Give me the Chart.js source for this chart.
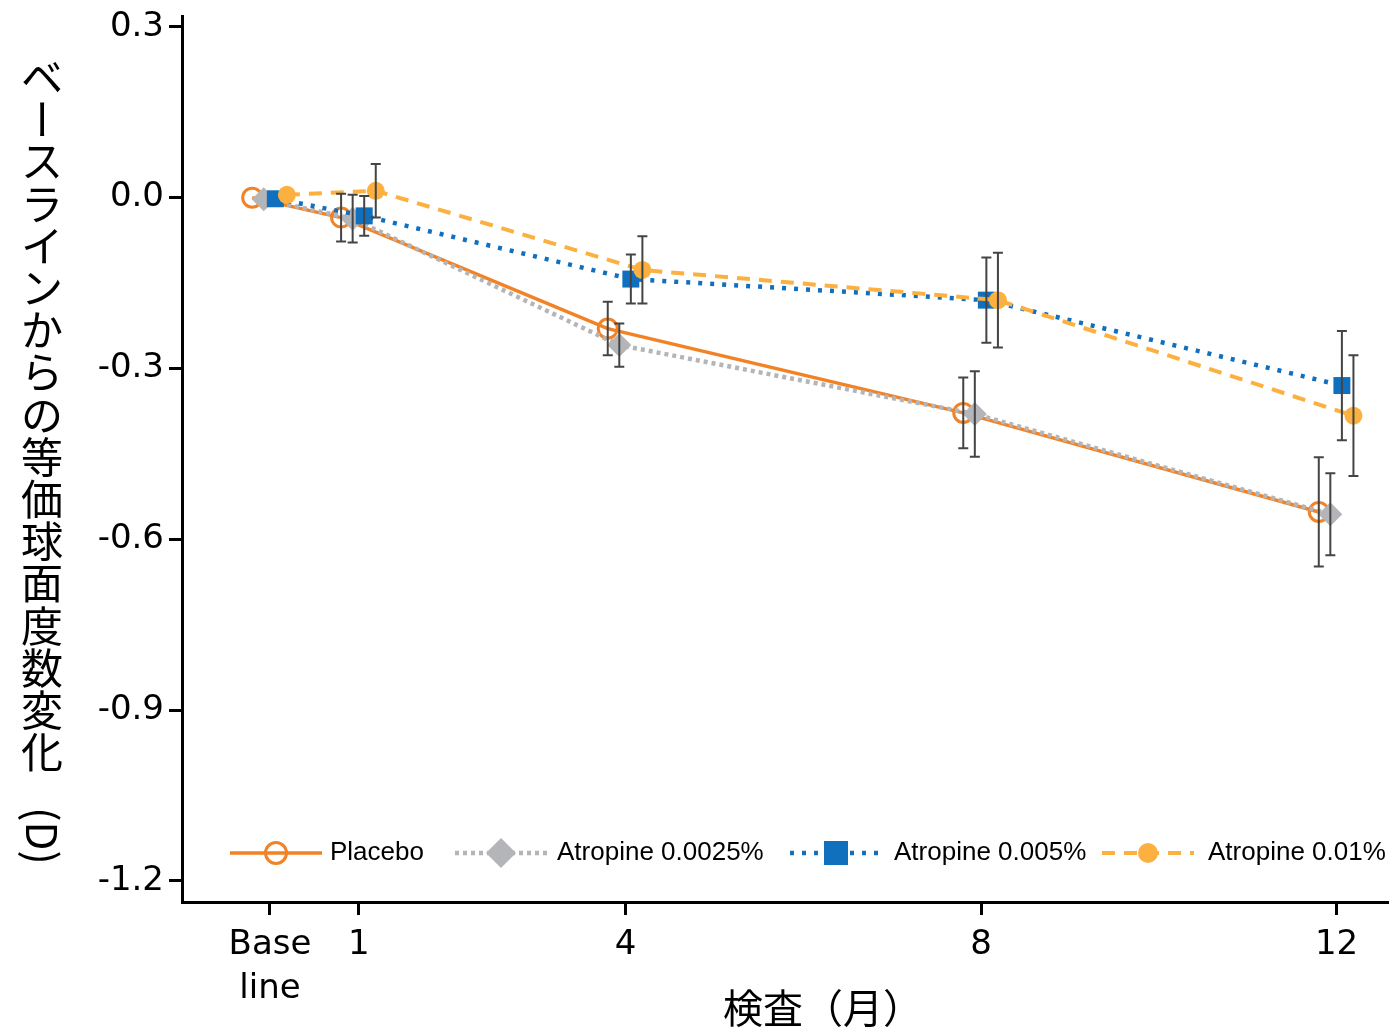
<!DOCTYPE html>
<html>
<head>
<meta charset="utf-8">
<script src="https://cdn.jsdelivr.net/npm/chart.js@4.4.0/dist/chart.umd.min.js"></script>
<style>
  html, body { margin: 0; padding: 0; background: #fff; overflow: hidden; }
  canvas { display: block; }
</style>
</head>
<body>
<canvas id="chart" width="1389" height="1028"></canvas>
<script>
// data
const months = [0, 1, 4, 8, 12];
const xTickLabels = [['Base', 'line'], '1', '4', '8', '12'];
const yTicks = [0.3, 0, -0.3, -0.6, -0.9, -1.2];
const seriesNames = ['Placebo', 'Atropine 0.0025%', 'Atropine 0.005%', 'Atropine 0.01%'];
const placebo = [0, -0.035, -0.23, -0.378, -0.552];
const placeboErr = [0, 0.042, 0.047, 0.062, 0.096];
const atr0025 = [-0.003, -0.037, -0.259, -0.38, -0.556];
const atr0025Err = [0, 0.042, 0.038, 0.075, 0.072];
const atr005 = [-0.002, -0.032, -0.143, -0.18, -0.33];
const atr005Err = [0, 0.035, 0.043, 0.075, 0.096];
const atr01 = [0.005, 0.012, -0.127, -0.18, -0.383];
const atr01Err = [0, 0.047, 0.059, 0.083, 0.106];

const yTitle = 'ベースラインからの等価球面度数変化';
const yUnit = '(D)';
const xTitle = '検査（月）';

const values = [placebo, atr0025, atr005, atr01];
const errors = [placeboErr, atr0025Err, atr005Err, atr01Err];
const dodge = [-0.2, -0.07, 0.06, 0.19];

const styles = [
  { color: '#F28226', dash: [], width: 3.5, point: 'circle', radius: 9.5, fill: 'rgba(0,0,0,0)', pbw: 3 },
  { color: '#B4B5B8', dash: [4, 4], width: 4.5, point: 'rectRot', radius: 12, fill: '#B4B5B8', pbw: 0 },
  { color: '#1170BE', dash: [4, 8], width: 4.5, point: 'rect', radius: 12, fill: '#1170BE', pbw: 0 },
  { color: '#FBB040', dash: [13, 9], width: 4, point: 'circle', radius: 9, fill: '#FBB040', pbw: 0 }
];

const datasets = values.map((vals, k) => ({
  label: seriesNames[k],
  data: months.map((m, i) => ({ x: m + dodge[k], y: vals[i] })),
  borderColor: styles[k].color,
  borderWidth: styles[k].width,
  borderDash: styles[k].dash,
  pointStyle: styles[k].point,
  pointRadius: styles[k].radius,
  pointHoverRadius: styles[k].radius,
  pointBackgroundColor: styles[k].fill,
  pointBorderColor: styles[k].color,
  pointBorderWidth: styles[k].pbw,
  tension: 0,
  fill: false,
  order: 4 - k
}));

const errorBars = {
  id: 'errorBars',
  afterDatasetsDraw(chart) {
    const ctx = chart.ctx;
    const xs = chart.scales.x, ys = chart.scales.y;
    ctx.save();
    ctx.strokeStyle = '#444';
    ctx.lineWidth = 2;
    values.forEach((vals, k) => {
      vals.forEach((v, i) => {
        const e = errors[k][i];
        if (!e) return;
        const x = xs.getPixelForValue(months[i] + dodge[k]);
        const y1 = ys.getPixelForValue(v + e);
        const y2 = ys.getPixelForValue(v - e);
        ctx.beginPath();
        ctx.moveTo(x, y1); ctx.lineTo(x, y2);
        ctx.moveTo(x - 5, y1); ctx.lineTo(x + 5, y1);
        ctx.moveTo(x - 5, y2); ctx.lineTo(x + 5, y2);
        ctx.stroke();
      });
    });
    ctx.restore();
  }
};

function drawMarker(ctx, k, x, y) {
  const s = styles[k];
  ctx.save();
  ctx.setLineDash([]);
  if (s.point === 'circle') {
    ctx.beginPath();
    ctx.arc(x, y, s.radius + 1, 0, Math.PI * 2);
    if (s.pbw) { ctx.lineWidth = s.pbw; ctx.strokeStyle = s.color; ctx.stroke(); }
    else { ctx.fillStyle = s.fill; ctx.fill(); }
  } else if (s.point === 'rectRot') {
    const r = 15;
    ctx.beginPath();
    ctx.moveTo(x, y - r); ctx.lineTo(x + r, y); ctx.lineTo(x, y + r); ctx.lineTo(x - r, y);
    ctx.closePath();
    ctx.fillStyle = s.fill; ctx.fill();
  } else {
    ctx.fillStyle = s.fill;
    ctx.fillRect(x - 12, y - 12, 24, 24);
  }
  ctx.restore();
}

const legendAndTitles = {
  id: 'legendAndTitles',
  afterDraw(chart) {
    const ctx = chart.ctx;
    ctx.save();
    // legend inside plot
    const starts = [230, 455, 790, 1102];
    const ly = 853;
    seriesNames.forEach((name, k) => {
      const x0 = starts[k];
      const s = styles[k];
      ctx.strokeStyle = s.color;
      ctx.lineWidth = s.width;
      ctx.setLineDash(s.dash);
      ctx.beginPath();
      ctx.moveTo(x0, ly); ctx.lineTo(x0 + 92, ly);
      ctx.stroke();
      drawMarker(ctx, k, x0 + 46, ly);
      ctx.setLineDash([]);
      ctx.fillStyle = '#000';
      ctx.font = '26px "Liberation Sans", Arial, sans-serif';
      ctx.textAlign = 'left';
      ctx.textBaseline = 'middle';
      ctx.fillText(name, x0 + 100 + k * 2, ly);
    });

    // vertical y title
    ctx.fillStyle = '#000';
    ctx.font = '42px "Noto Sans CJK JP", sans-serif';
    ctx.textAlign = 'center';
    ctx.textBaseline = 'middle';
    const cx = 42, pitch = 42.2, top = 77;
    [...yTitle].forEach((ch, i) => {
      const cy = top + i * pitch;
      if (ch === 'ー') {
        ctx.save();
        ctx.translate(cx, cy);
        ctx.rotate(Math.PI / 2);
        ctx.fillText(ch, 0, 0);
        ctx.restore();
      } else {
        ctx.fillText(ch, cx, cy);
      }
    });
    ctx.save();
    ctx.translate(cx, 836);
    ctx.rotate(Math.PI / 2);
    ctx.fillText(yUnit, 0, 0);
    ctx.restore();

    // x title
    ctx.font = '40px "Noto Sans CJK JP", sans-serif';
    ctx.fillText(xTitle, 823, 1008);
    ctx.restore();
  }
};

new Chart(document.getElementById('chart'), {
  type: 'line',
  data: { datasets: datasets },
  options: {
    responsive: false,
    animation: false,
    layout: { autoPadding: false, padding: { top: 16, right: 0, left: 0, bottom: 0 } },
    plugins: { legend: { display: false }, tooltip: { enabled: false } },
    scales: {
      x: {
        type: 'linear',
        min: -0.99,
        max: 12.59,
        afterBuildTicks: s => { s.ticks = months.map(v => ({ value: v })); },
        afterFit: s => { s.height = 126; s.paddingLeft = 0; s.paddingRight = 0; },
        ticks: {
          autoSkip: false,
          maxRotation: 0,
          padding: 8,
          color: '#000',
          font: { family: '"DejaVu Sans", sans-serif', size: 34, lineHeight: 1.3 },
          callback: (v, i) => xTickLabels[i]
        },
        grid: { drawOnChartArea: false, drawTicks: true, tickLength: 13, tickWidth: 3, tickColor: '#000' },
        border: { color: '#000', width: 3 }
      },
      y: {
        min: -1.237,
        max: 0.319,
        afterBuildTicks: s => { s.ticks = yTicks.map(v => ({ value: v })); },
        afterFit: s => { s.width = 182; s.paddingTop = 0; s.paddingBottom = 0; },
        ticks: {
          padding: 5,
          color: '#000',
          font: { family: '"DejaVu Sans", sans-serif', size: 34 },
          callback: v => v.toFixed(1)
        },
        grid: { drawOnChartArea: false, drawTicks: true, tickLength: 13, tickWidth: 3, tickColor: '#000' },
        border: { color: '#000', width: 3 }
      }
    }
  },
  plugins: [errorBars, legendAndTitles]
});
</script>
</body>
</html>
